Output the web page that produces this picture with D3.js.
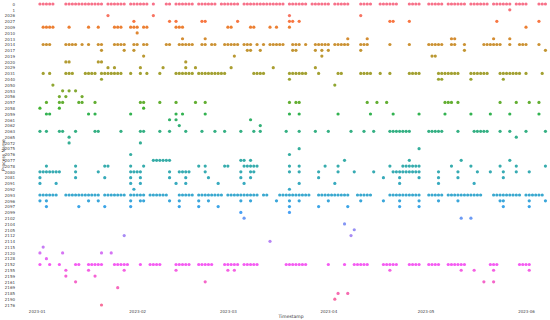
<!DOCTYPE html>
<html>
<head>
<meta charset="utf-8">
<script src="https://cdn.jsdelivr.net/npm/d3@7"></script>
<style>
  body { margin: 0; background: #fff; }
  text { font-family: "DejaVu Sans", sans-serif; }
</style>
</head>
<body>
<div id="chart"></div>
<script>
// process categories, top to bottom
const categories = ['0', '1', '2026', '2027', '2009', '2010', '2013', '2014', '2017', '2019',
  '2020', '2029', '2031', '2040', '2050', '2053', '2056', '2057', '2058', '2059',
  '2061', '2062', '2063', '2065', '2072', '2075', '2076', '2077', '2078', '2080',
  '2081', '2091', '2092', '2093', '2096', '2097', '2099', '2102', '2104', '2105',
  '2112', '2114', '2115', '2120', '2128', '2152', '2155', '2159', '2161', '2169',
  '2185', '2190', '2176'];

// days after 2023-01-01 on which each process shows up
const dayOffsets = [
  [1,2,3,4,5,9,10,11,12,13,14,15,16,17,18,19,20,22,23,24,25,26,27,29,30,31,32,33,34,36,40,41,43,44,45,46,47,48,50,51,52,53,54,55,57,58,59,60,61,62,64,65,66,67,68,69,70,71,72,73,74,75,76,78,79,80,81,82,83,85,86,87,88,89,90,92,93,94,95,96,100,101,102,103,106,107,108,109,110,111,115,116,117,118,121,122,123,124,125,127,128,129,130,131,132,134,135,136,137,138,139,141,142,143,144,145,146,148,149,150,151,155,156,157],
  [146],
  [22,36,78,100],
  [30,41,43,51,52,62,78,79,81,109,110,115,142,155],
  [2,3,4,5,10,16,19,24,25,26,29,30,31,33,34,43,44,45,59,60,66,67,72,74,78,151],
  [31],
  [45,52,96,102,128,129,141,146],
  [2,3,4,9,10,11,12,14,16,19,20,24,25,26,27,30,31,33,34,40,41,44,45,46,47,48,51,52,54,55,58,59,60,61,62,64,65,66,68,70,72,73,74,75,76,79,80,81,83,86,87,88,89,90,92,93,94,95,96,100,101,102,109,115,121,122,123,124,125,128,129,132,138,139,140,141,142,143,146,149,150,151,155],
  [20,27,30,65,66,69,79,80,86,88,90,100,132,157],
  [33,61,88,122,123],
  [9,10,19,20,46],
  [22,24,32,39,46,49,60,73,86],
  [2,4,9,10,11,15,16,17,18,20,21,22,23,24,25,26,29,32,34,38,43,44,45,46,47,48,50,51,52,53,54,55,56,57,58,67,68,69,70,78,79,80,81,82,83,87,93,94,100,101,102,103,106,109,115,116,117,118,124,125,126,127,128,129,130,134,135,136,137,138,139,143,144,145,146,147,148,149,151,156],
  [20,78,124,125,134,144],
  [5,92],
  [8,10,12],
  [7,9,14],
  [3,7,8,13,14,18,32,33,38,43,49,52,78,80,81,102,105,108,126,127,128,130,143,148,152,155],
  [1,7,33],
  [3,4,16,18,29,43,45,52,78,81,93,103,110,118,126,134,140,146,155],
  [41,43,66],
  [44,69],
  [1,3,7,8,12,18,19,26,32,33,38,41,46,51,55,58,63,67,69,77,81,86,90,97,101,104,109,110,111,112,113,114,115,121,122,123,124,125,130,135,136,137,138,139,143,146,151,157],
  [10,148],
  [10,32],
  [81,118],
  [29,78],
  [36,37,38,39,40,41,63,64,66,95,115,131,146],
  [3,12,21,22,29,33,50,52,58,59,64,65,66,67,68,78,81,89,93,109,113,114,115,116,117,118,128,134,143,148,157],
  [1,2,3,4,5,6,7,12,19,29,30,31,32,41,44,45,46,47,52,63,66,67,78,81,87,93,98,104,110,111,112,113,114,115,116,117,118,124,130,136,140,144,148,152],
  [1,12,21,29,32,41,46,53,63,66,87,107,112,118,124,130,144],
  [1,6,29,32,43,46,56,64,81,92,112,124,135],
  [30,78],
  [1,2,3,4,5,6,9,10,11,12,13,14,15,16,17,18,19,21,22,23,24,25,26,27,29,30,31,32,33,35,36,37,38,39,40,44,45,46,47,48,50,51,52,53,54,55,56,57,59,60,61,62,63,64,65,66,67,68,70,71,75,76,77,78,79,80,81,82,83,84,87,88,89,90,91,92,93,94,95,96,99,100,101,102,103,109,110,111,112,113,114,115,116,117,118,121,122,123,124,125,127,128,129,130,131,132,133,134,135,136,137,141,142,143,144,145,146,147,148,149,151,152,153,154,155,156],
  [1,3,16,19,29,32,33,41,44,50,53,63,66,74,78,81,90,100,107,112,118,124,130,143,144,152,157],
  [3,13,21,29,44,50,56,78,87,96,112,118,144,152],
  [63,78],
  [64,131,134],
  [95],
  [98],
  [27,97],
  [72],
  [2],
  [1,8,20,23],
  [3],
  [1,4,7,12,13,16,17,18,19,20,24,25,26,27,28,32,35,36,37,38,43,44,45,46,47,50,51,52,53,54,58,59,60,61,62,64,65,66,67,68,77,78,79,80,81,82,83,90,95,98,99,100,101,102,107,108,109,110,111,115,116,117,118,121,122,123,124,127,128,129,130,131,132,140,141,142,149,150,151,152],
  [9,16,27,43,59,61,109,131,135,141,152],
  [9,18],
  [12,52,138,141],
  [25],
  [93,96],
  [92],
  [20]
];

const monthTicks = ['2023-01', '2023-02', '2023-03', '2023-04', '2023-05', '2023-06'];

const width = 550, height = 320;
const day0 = Date.UTC(2023, 0, 1);

// seaborn-style husl palette
const M = [[3.240969941904521, -1.537383177570093, -0.498610760293],
  [-0.96924363628087, 1.87596750150772, 0.041555057407175],
  [0.055630079696993, -0.20397695888897, 1.056971514242878]];
const kappa = 903.2962962, epsilon = 0.0088564516;

function maxChroma(L, H) {
  const hrad = H / 360 * Math.PI * 2;
  const sub1 = Math.pow(L + 16, 3) / 1560896;
  const sub2 = sub1 > epsilon ? sub1 : L / kappa;
  let best = Infinity;
  for (const [m1, m2, m3] of M) {
    for (let t = 0; t < 2; t++) {
      const top1 = (284517 * m1 - 94839 * m3) * sub2;
      const top2 = (838422 * m3 + 769860 * m2 + 731718 * m1) * L * sub2 - 769860 * t * L;
      const bottom = (632260 * m3 - 126452 * m2) * sub2 + 126452 * t;
      const slope = top1 / bottom, intercept = top2 / bottom;
      const len = intercept / (Math.sin(hrad) - slope * Math.cos(hrad));
      if (len >= 0) best = Math.min(best, len);
    }
  }
  return best;
}

function husl(H, S, L) {
  const C = maxChroma(L, H) / 100 * S;
  const hr = H / 180 * Math.PI;
  const U = Math.cos(hr) * C, V = Math.sin(hr) * C;
  const Y = L > 8 ? Math.pow((L + 16) / 116, 3) : L / kappa;
  const varU = U / (13 * L) + 0.19783000664283;
  const varV = V / (13 * L) + 0.46831999493879;
  const X = 0 - (9 * Y * varU) / ((varU - 4) * varV - varU * varV);
  const Z = (9 * Y - 15 * varV * Y - varV * X) / (3 * varV);
  const rgb = M.map(r => {
    const c = r[0] * X + r[1] * Y + r[2] * Z;
    const g = c <= 0.0031308 ? 12.92 * c : 1.055 * Math.pow(c, 1 / 2.4) - 0.055;
    return Math.round(Math.max(0, Math.min(1, g)) * 255);
  });
  return d3.rgb(rgb[0], rgb[1], rgb[2]).formatHex();
}

const n = categories.length;
const palette = categories.map((c, i) => husl(((i / n) + 0.01) % 1 * 359, 89.1, 64.35));

const svg = d3.select('#chart').append('svg')
  .attr('width', width)
  .attr('height', height)
  .style('background', '#fff')

const x = d3.scaleUtc()
  .domain([new Date(day0), new Date(Date.UTC(2023, 5, 1))])
  .range([36.7, 526])

const y = d3.scalePoint()
  .domain(categories)
  .range([4, 305])

const xAxis = svg.append('g')
  .attr('transform', 'translate(0,308)')
  .call(d3.axisBottom(x)
    .tickValues(monthTicks.map((m) => d3.utcParse('%Y-%m')(m)))
    .tickFormat(d3.utcFormat('%Y-%m'))
    .tickSize(0)
    .tickPadding(2))
xAxis.select('.domain').remove()
xAxis.selectAll('text').style('font-size', '4px').attr('fill', '#444')

const yAxis = svg.append('g')
  .attr('transform', 'translate(17,0)')
  .call(d3.axisLeft(y).tickSize(0).tickPadding(2))
yAxis.select('.domain').remove()
yAxis.selectAll('text').style('font-size', '4px').attr('fill', '#444')

svg.append('text')
  .attr('x', 291)
  .attr('y', 318)
  .attr('text-anchor', 'middle')
  .style('font-size', '4.5px')
  .attr('fill', '#333')
  .text('Timestamp')

svg.append('text')
  .attr('transform', 'translate(4.5,155) rotate(-90)')
  .attr('text-anchor', 'middle')
  .style('font-size', '4.5px')
  .attr('fill', '#333')
  .text('Process Name')

const points = [];
categories.forEach((c, i) => {
  dayOffsets[i].forEach((d) => points.push({ cat: c, date: new Date(day0 + d * 864e5), color: palette[i] }));
});

svg.append('g').selectAll('circle')
  .data(points)
  .enter()
  .append('circle')
  .attr('cx', (d) => x(d.date))
  .attr('cy', (d) => y(d.cat))
  .attr('r', 1.6)
  .attr('fill', (d) => d.color)
</script>
</body>
</html>
